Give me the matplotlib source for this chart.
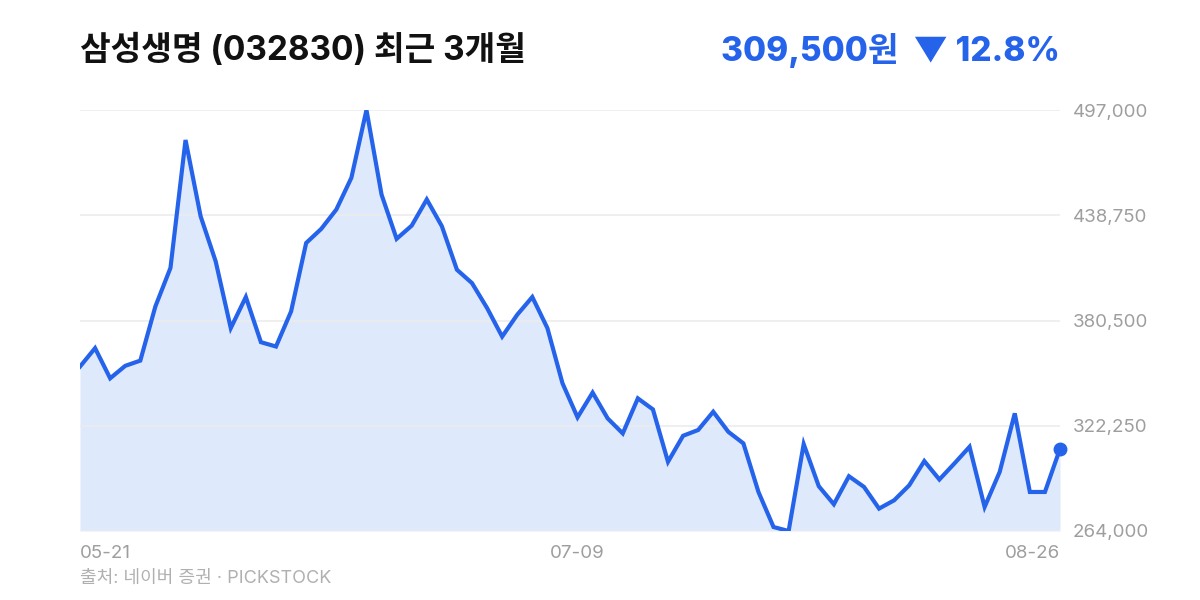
import matplotlib
matplotlib.use("Agg")
import matplotlib.pyplot as plt

plt.rcParams['font.family'] = ['Inter', 'Noto Sans CJK KR', 'DejaVu Sans']

# 삼성생명 종가 (최근 3개월, 원)
prices = [
    355000, 365200, 348500, 355400, 358300, 388300, 409600, 480400, 438200, 413200,
    376300, 393500, 368500, 366100, 385500, 423400, 431200, 441900, 459500, 497000,
    450200, 425700, 433000, 447500, 432700, 408600, 401200, 387400, 371600, 383700,
    393500, 376300, 345800, 326900, 340600, 326300, 318000, 337400, 331300, 302300,
    316700, 319900, 330000, 318900, 312500, 285600, 266200, 264000, 312100, 288800,
    278800, 294300, 288400, 276400, 281000, 289300, 302700, 292500, 301400, 310600,
    277300, 296700, 329100, 285600, 285600, 309500,
]
tick_idx = [0, 33, len(prices) - 1]
tick_labels = ['05-21', '07-09', '08-26']
y_ticks = [264000, 322250, 380500, 438750, 497000]

title = '삼성생명 (032830) 최근 3개월'
price_text = '309,500원  ▼ 12.8%'
source = '출처: 네이버 증권 · PICKSTOCK'

blue = '#2563eb'
fill = '#dfe9fc'
gray = '#9e9e9e'

fig = plt.figure(figsize=(12, 6), dpi=100)
ax = fig.add_axes([80 / 1200, 1 - 531 / 600, 980 / 1200, 421 / 600])

x = list(range(len(prices)))
ax.fill_between(x, prices, y_ticks[0], color=fill, lw=0, zorder=1)
ax.plot(x, prices, color=blue, lw=3, solid_joinstyle='miter', zorder=3)
ax.plot(x[-1], prices[-1], 'o', color=blue, ms=9, zorder=4, clip_on=False)

ax.set_xlim(0, len(prices) - 1)
ax.set_ylim(y_ticks[0], y_ticks[-1])
ax.set_yticks(y_ticks)
ax.yaxis.tick_right()
ax.set_yticklabels([f'{v:,}' for v in y_ticks], color=gray, fontsize=13.5)
ax.tick_params(axis='y', length=0, pad=9)
ax.grid(axis='y', color='#ececec', lw=1.2, zorder=0)
ax.set_xticks([])
for s in ax.spines.values():
    s.set_visible(False)

# x labels: first left-aligned, middle centred, last right-aligned
has = ['left', 'center', 'right']
for i, lab, ha in zip(tick_idx, tick_labels, has):
    ax.annotate(lab, xy=(i, 0), xycoords=('data', 'axes fraction'),
                xytext=(0, -22), textcoords='offset pixels',
                ha=ha, va='center', color=gray, fontsize=13.5)

fig.text(80 / 1200, 1 - 50 / 600, title, fontsize=24, fontweight='bold',
         color='#111111', va='center', ha='left')
fig.text(1060 / 1200, 1 - 50 / 600, price_text, fontsize=24, fontweight='heavy',
         color=blue, va='center', ha='right')
fig.text(80 / 1200, 1 - 578 / 600, source, fontsize=13, color='#b0b0b0',
         va='center', ha='left')

fig.savefig('out.png', dpi=100, facecolor='white')
